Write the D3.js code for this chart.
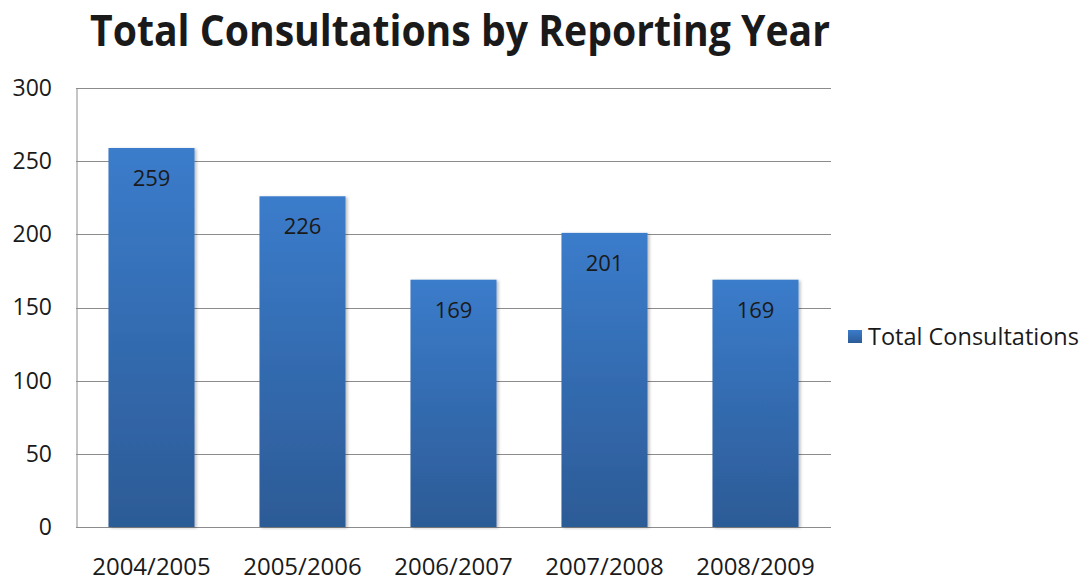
<!DOCTYPE html>
<html>
<head>
<meta charset="utf-8">
<script src="https://cdn.jsdelivr.net/npm/d3@7"></script>
<style>
    body { margin: 0; background: #fff; }
    text { font-family: "Open Sans", sans-serif; fill: #1a1a1a; }
</style>
</head>
<body>
<div id="bar"></div>
<script>
const SVG_HEIGHT = 581;
const SVG_WIDTH = 1081;
const MARGIN = { TOP: 88, RIGHT: 250, LEFT: 76, BOTTOM: 54 }

// data
const years = ["2004/2005", "2005/2006", "2006/2007", "2007/2008", "2008/2009"];
const consultations = [259, 226, 169, 201, 169];
const yTicks = [0, 50, 100, 150, 200, 250, 300];
const seriesName = "Total Consultations";

const W = SVG_WIDTH - MARGIN.LEFT - MARGIN.RIGHT;
const H = SVG_HEIGHT - MARGIN.TOP - MARGIN.BOTTOM;

var svg = d3.select("#bar").append("svg")
    .attr("height", SVG_HEIGHT)
    .attr("width", SVG_WIDTH);

// gradient for bars
var grad = svg.append("defs").append("linearGradient")
    .attr("id", "barGrad")
    .attr("x1", 0).attr("y1", 0).attr("x2", 0).attr("y2", 1);
grad.append("stop").attr("offset", "0%").attr("stop-color", "#3b7ccb");
grad.append("stop").attr("offset", "100%").attr("stop-color", "#2c5b96");

var shadow = svg.select("defs").append("filter").attr("id", "shadow")
    .attr("x", "-10%").attr("y", "-10%").attr("width", "130%").attr("height", "130%");
shadow.append("feDropShadow").attr("dx", 2).attr("dy", 1).attr("stdDeviation", 1.5)
    .attr("flood-color", "#000").attr("flood-opacity", 0.25);

const xScale = d3.scaleBand()
    .domain(years)
    .range([0, W])
    .paddingInner(0.43)
    .paddingOuter(0.215);

const yScale = d3.scaleLinear()
    .domain([0, 300])
    .range([H, 0]);

var g = svg.append("g")
    .attr("transform", `translate(${MARGIN.LEFT},${MARGIN.TOP})`);

// gridlines
g.append("g").attr("class", "grid")
    .selectAll("line")
    .data(yTicks)
    .enter()
    .append("line")
    .attr("x1", 0)
    .attr("x2", W)
    .attr("y1", d => Math.round(yScale(d)) + 0.5)
    .attr("y2", d => Math.round(yScale(d)) + 0.5)
    .attr("stroke", "#8c8c8c")
    .attr("stroke-width", 1);

// y axis
var axisLeft = d3.axisLeft(yScale).tickValues(yTicks).tickSize(0).tickPadding(24);
var yAxis = g.append("g").call(axisLeft);
yAxis.select(".domain").attr("stroke", "#8c8c8c").attr("transform", "translate(0.5,0)");
yAxis.selectAll("text").style("font-size", "23px").attr("fill", "#1a1a1a");

// x axis
var axisBottom = d3.axisBottom(xScale).tickSize(0).tickPadding(31);
var xAxis = g.append("g").attr("transform", `translate(0,${H})`).call(axisBottom);
xAxis.select(".domain").remove();
xAxis.selectAll("text").style("font-size", "24px").attr("fill", "#1a1a1a");

// bars
g.selectAll("rect.bar")
    .data(consultations)
    .enter()
    .append("rect")
    .classed("bar", true)
    .attr("x", (d, i) => xScale(years[i]))
    .attr("y", d => yScale(d))
    .attr("width", xScale.bandwidth())
    .attr("height", d => H - yScale(d))
    .attr("fill", "url(#barGrad)")
    .attr("filter", "url(#shadow)");

// value labels
g.append("g").attr("class", "textGrop")
    .selectAll("text")
    .data(consultations)
    .enter()
    .append("text")
    .attr("text-anchor", "middle")
    .attr("x", (d, i) => xScale(years[i]) + xScale.bandwidth() / 2)
    .attr("y", d => yScale(d) + 38)
    .style("font-size", "22px")
    .text(d => d);

// title
svg.append("text")
    .attr("x", 460)
    .attr("y", 46)
    .attr("text-anchor", "middle")
    .attr("textLength", 740)
    .attr("lengthAdjust", "spacingAndGlyphs")
    .style("font-size", "43px")
    .style("font-weight", "bold")
    .attr("fill", "#000")
    .text("Total Consultations by Reporting Year");

// legend
var legend = svg.append("g").attr("transform", "translate(848,330)");
legend.append("rect")
    .attr("width", 14).attr("height", 13)
    .attr("fill", "url(#barGrad)");
legend.append("text")
    .attr("x", 20)
    .attr("y", 15)
    .style("font-size", "23.5px")
    .text(seriesName);
</script>
</body>
</html>
